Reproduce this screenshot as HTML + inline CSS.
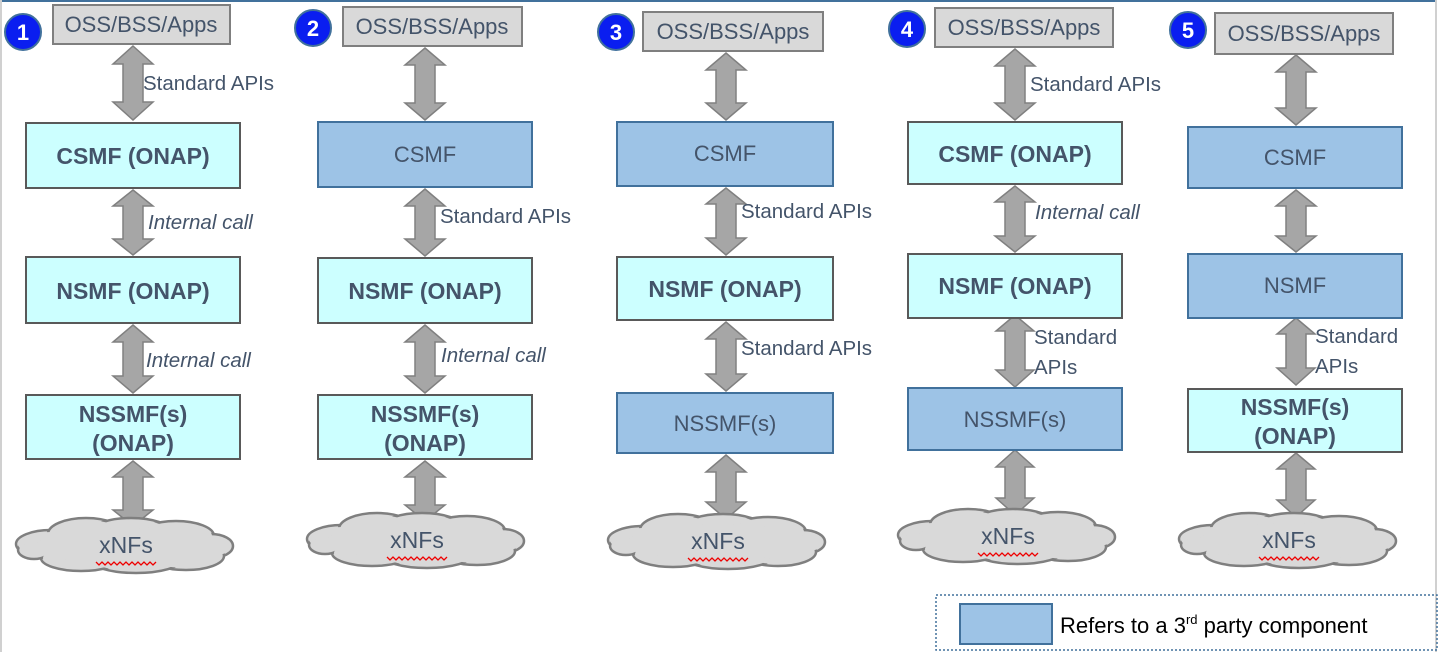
<!DOCTYPE html>
<html><head><meta charset="utf-8"><style>
html,body{margin:0;padding:0;background:#fff}
svg{display:block}
text{font-family:"Liberation Sans",sans-serif;fill:#44546a}
.b{font-weight:bold;font-size:23px}
</style></head><body>
<svg width="1442" height="652" viewBox="0 0 1442 652" xmlns="http://www.w3.org/2000/svg">
<defs>
<g id="cl">
 <g stroke="#7f7f7f" stroke-width="2.5" fill="#d9d9d9">
  <ellipse cx="-75" cy="-2" rx="35" ry="14"/><ellipse cx="-40" cy="-12" rx="38" ry="16"/>
  <ellipse cx="5" cy="-14" rx="40" ry="14"/><ellipse cx="50" cy="-10" rx="38" ry="15"/>
  <ellipse cx="85" cy="0" rx="22" ry="12"/><ellipse cx="60" cy="10" rx="38" ry="14"/>
  <ellipse cx="10" cy="14" rx="45" ry="13"/><ellipse cx="-45" cy="12" rx="40" ry="13"/>
  <ellipse cx="-92" cy="4" rx="16" ry="9"/>
 </g>
 <g fill="#d9d9d9">
  <ellipse cx="-75" cy="-2" rx="33" ry="12"/><ellipse cx="-40" cy="-12" rx="36" ry="14"/>
  <ellipse cx="5" cy="-14" rx="38" ry="12"/><ellipse cx="50" cy="-10" rx="36" ry="13"/>
  <ellipse cx="85" cy="0" rx="20" ry="10"/><ellipse cx="60" cy="10" rx="36" ry="12"/>
  <ellipse cx="10" cy="14" rx="43" ry="11"/><ellipse cx="-45" cy="12" rx="38" ry="11"/>
  <ellipse cx="-92" cy="4" rx="14" ry="7"/><ellipse cx="0" cy="0" rx="90" ry="18"/>
 </g>
 <text x="0" y="7" font-size="23" text-anchor="middle">xNFs</text>
 <path d="M-30,16 l3,3 l3,-3 l3,3 l3,-3 l3,3 l3,-3 l3,3 l3,-3 l3,3 l3,-3 l3,3 l3,-3 l3,3 l3,-3 l3,3 l3,-3 l3,3 l3,-3 l3,3 l3,-3" stroke="#e00" stroke-width="1.3" fill="none"/>
</g>
</defs>
<rect x="0" y="0" width="1442" height="652" fill="#fff"/>
<line x1="0" y1="1" x2="1436" y2="1" stroke="#41719c" stroke-width="2"/>
<line x1="1" y1="0" x2="1" y2="652" stroke="#d0d0d0" stroke-width="2"/>
<line x1="1436" y1="0" x2="1436" y2="652" stroke="#d0d0d0" stroke-width="2"/>

<g fill="#a6a6a6" stroke="#808080" stroke-width="1.5">
<path d="M133,46 L153,64 L143,64 L143,102 L153,102 L133,120 L113,102 L123,102 L123,64 L113,64 Z"/>
<path d="M133,190 L153,206 L143,206 L143,239 L153,239 L133,255 L113,239 L123,239 L123,206 L113,206 Z"/>
<path d="M133,325 L153,342 L143,342 L143,376 L153,376 L133,393 L113,376 L123,376 L123,342 L113,342 Z"/>
<path d="M133,461 L153,477 L143,477 L143,510 L153,510 L133,526 L113,510 L123,510 L123,477 L113,477 Z"/>
<path d="M425,48 L445,65 L435,65 L435,103 L445,103 L425,120 L405,103 L415,103 L415,65 L405,65 Z"/>
<path d="M425,189 L445,206 L435,206 L435,239 L445,239 L425,256 L405,239 L415,239 L415,206 L405,206 Z"/>
<path d="M425,325 L445,342 L435,342 L435,376 L445,376 L425,393 L405,376 L415,376 L415,342 L405,342 Z"/>
<path d="M425,461 L445,477 L435,477 L435,505 L445,505 L425,521 L405,505 L415,505 L415,477 L405,477 Z"/>
<path d="M726,53 L746,70 L736,70 L736,103 L746,103 L726,120 L706,103 L716,103 L716,70 L706,70 Z"/>
<path d="M726,188 L746,204 L736,204 L736,238 L746,238 L726,255 L706,238 L716,238 L716,204 L706,204 Z"/>
<path d="M726,322 L746,339 L736,339 L736,374 L746,374 L726,391 L706,374 L716,374 L716,339 L706,339 Z"/>
<path d="M726,455 L746,472 L736,472 L736,502 L746,502 L726,519 L706,502 L716,502 L716,472 L706,472 Z"/>
<path d="M1015,49 L1035,66 L1025,66 L1025,103 L1035,103 L1015,120 L995,103 L1005,103 L1005,66 L995,66 Z"/>
<path d="M1015,186 L1035,202 L1025,202 L1025,236 L1035,236 L1015,252 L995,236 L1005,236 L1005,202 L995,202 Z"/>
<path d="M1015,315 L1034,331 L1025,331 L1025,370 L1034,370 L1015,387 L996,370 L1005,370 L1005,331 L996,331 Z"/>
<path d="M1015,450 L1034,467 L1025,467 L1025,498 L1034,498 L1015,515 L996,498 L1005,498 L1005,467 L996,467 Z"/>
<path d="M1296,55 L1316,72 L1306,72 L1306,108 L1316,108 L1296,125 L1276,108 L1286,108 L1286,72 L1276,72 Z"/>
<path d="M1296,190 L1316,206 L1306,206 L1306,236 L1316,236 L1296,252 L1276,236 L1286,236 L1286,206 L1276,206 Z"/>
<path d="M1296,318 L1315,334 L1306,334 L1306,368 L1315,368 L1296,385 L1277,368 L1286,368 L1286,334 L1277,334 Z"/>
<path d="M1296,453 L1315,469 L1306,469 L1306,500 L1315,500 L1296,517 L1277,500 L1286,500 L1286,469 L1277,469 Z"/>
</g>

<g fill="#0a1ef0" stroke="#41719c" stroke-width="2">
<circle cx="23" cy="32" r="18"/><circle cx="313" cy="28" r="18"/><circle cx="616" cy="32" r="18"/><circle cx="907" cy="29" r="18"/><circle cx="1188" cy="30" r="18"/>
</g>
<g font-size="22" text-anchor="middle" style="font-weight:bold">
<text x="23" y="40" style="fill:#fff">1</text><text x="313" y="36" style="fill:#fff">2</text><text x="616" y="40" style="fill:#fff">3</text><text x="907" y="37" style="fill:#fff">4</text><text x="1188" y="38" style="fill:#fff">5</text>
</g>

<g fill="#d9d9d9" stroke="#7f7f7f" stroke-width="2">
<rect x="53" y="5" width="177" height="39"/><rect x="343" y="7" width="179" height="39"/><rect x="643" y="12" width="180" height="39"/><rect x="935" y="8" width="178" height="39"/><rect x="1215" y="13" width="178" height="41"/>
</g>
<g font-size="22" text-anchor="middle">
<text x="141" y="32">OSS/BSS/Apps</text><text x="432" y="34">OSS/BSS/Apps</text><text x="733" y="39">OSS/BSS/Apps</text><text x="1024" y="35">OSS/BSS/Apps</text><text x="1304" y="41">OSS/BSS/Apps</text>
</g>

<g fill="#ccffff" stroke="#595959" stroke-width="2">
<rect x="26" y="123" width="214" height="65"/><rect x="26" y="257" width="214" height="66"/><rect x="26" y="395" width="214" height="64"/>
<rect x="318" y="258" width="214" height="65"/><rect x="318" y="395" width="214" height="64"/>
<rect x="617" y="257" width="216" height="63"/>
<rect x="908" y="122" width="214" height="62"/><rect x="908" y="254" width="214" height="64"/>
<rect x="1188" y="389" width="214" height="63"/>
</g>
<g fill="#9dc3e6" stroke="#41719c" stroke-width="2">
<rect x="318" y="122" width="214" height="65"/>
<rect x="617" y="122" width="216" height="64"/><rect x="617" y="393" width="216" height="60"/>
<rect x="908" y="388" width="214" height="62"/>
<rect x="1188" y="127" width="214" height="61"/><rect x="1188" y="254" width="214" height="64"/>
<rect x="960" y="604" width="92" height="40"/>
</g>
<g font-size="22" text-anchor="middle">
<text x="133" y="164" class="b">CSMF (ONAP)</text>
<text x="133" y="299" class="b">NSMF (ONAP)</text>
<text x="133" y="422" class="b">NSSMF(s)</text><text x="133" y="451" class="b">(ONAP)</text>
<text x="425" y="162">CSMF</text>
<text x="425" y="299" class="b">NSMF (ONAP)</text>
<text x="425" y="422" class="b">NSSMF(s)</text><text x="425" y="451" class="b">(ONAP)</text>
<text x="725" y="161">CSMF</text>
<text x="725" y="297" class="b">NSMF (ONAP)</text>
<text x="725" y="431">NSSMF(s)</text>
<text x="1015" y="162" class="b">CSMF (ONAP)</text>
<text x="1015" y="294" class="b">NSMF (ONAP)</text>
<text x="1015" y="427">NSSMF(s)</text>
<text x="1295" y="165">CSMF</text>
<text x="1295" y="293">NSMF</text>
<text x="1295" y="415" class="b">NSSMF(s)</text><text x="1295" y="444" class="b">(ONAP)</text>
</g>

<g font-size="20.5">
<text x="143" y="90">Standard APIs</text>
<text x="148" y="229" style="font-style:italic">Internal call</text>
<text x="146" y="367" style="font-style:italic">Internal call</text>
<text x="440" y="223">Standard APIs</text>
<text x="441" y="362" style="font-style:italic">Internal call</text>
<text x="741" y="218">Standard APIs</text>
<text x="741" y="355">Standard APIs</text>
<text x="1030" y="91">Standard APIs</text>
<text x="1035" y="219" style="font-style:italic">Internal call</text>
<text x="1034" y="344">Standard</text><text x="1034" y="374">APIs</text>
<text x="1315" y="343">Standard</text><text x="1315" y="373">APIs</text>
</g>

<use href="#cl" x="126" y="546"/>
<use href="#cl" x="417" y="541"/>
<use href="#cl" x="718" y="542"/>
<use href="#cl" x="1008" y="537"/>
<use href="#cl" x="1289" y="541"/>

<rect x="936" y="595" width="501" height="55" fill="none" stroke="#41719c" stroke-width="1.5" stroke-dasharray="2,2"/>
<text x="1060" y="633" font-size="22" style="fill:#000">Refers to a 3<tspan font-size="13" dy="-9">rd</tspan><tspan dy="9"> party component</tspan></text>
</svg>
</body></html>
